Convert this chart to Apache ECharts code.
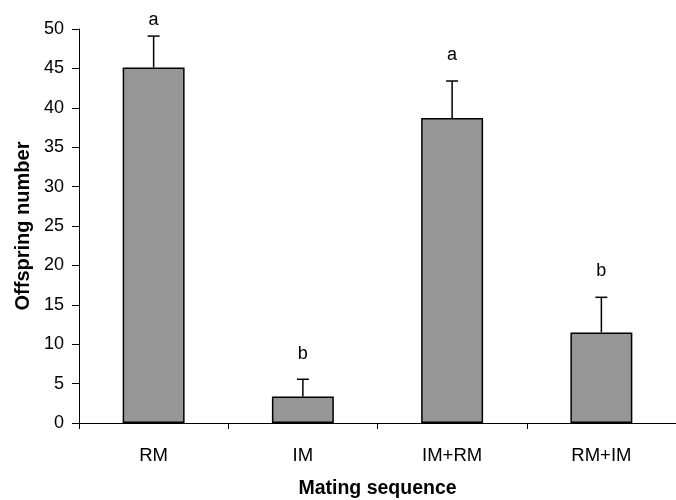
<!DOCTYPE html>
<html><head><meta charset="utf-8">
<script src="https://cdn.jsdelivr.net/npm/echarts@6/dist/echarts.min.js"></script>
<style>html,body{margin:0;padding:0;background:#fff}#c{width:676px;height:500px}</style>
</head><body><div id="c"></div>
<script>
const categories = ['RM', 'IM', 'IM+RM', 'RM+IM'];
const means = [45.1, 3.35, 38.7, 11.5];
const errorTops = [49.1, 5.55, 43.4, 15.95];
const letters = ['a', 'b', 'a', 'b'];
const letterMidY = [51.1, 8.8, 46.65, 19.25];
const yTicks = [0, 5, 10, 15, 20, 25, 30, 35, 40, 45, 50];

const font = 'Liberation Sans, Arial, sans-serif';
const chart = echarts.init(document.getElementById('c'), null, {renderer: 'canvas'});
chart.setOption({
  animation: false,
  grid: {left: 79, right: 0, top: 29, bottom: 77, containLabel: false, outerBoundsMode: 'none'},
  xAxis: {
    type: 'category', data: categories,
    name: 'Mating sequence', nameLocation: 'middle', nameGap: 56,
    nameTextStyle: {fontFamily: font, fontSize: 19.5, fontWeight: 'bold', color: '#000'},
    axisLine: {lineStyle: {color: '#000', width: 1}},
    axisTick: {show: true, length: 6, lineStyle: {color: '#000'}},
    axisLabel: {fontFamily: font, fontSize: 18.5, color: '#000', margin: 23}
  },
  yAxis: {
    type: 'value', min: yTicks[0], max: yTicks[yTicks.length - 1], interval: 5,
    name: 'Offspring number', nameLocation: 'middle', nameGap: 46, nameRotate: 90,
    nameTextStyle: {fontFamily: font, fontSize: 20, fontWeight: 'bold', color: '#000'},
    axisLine: {show: true, lineStyle: {color: '#000', width: 1}},
    axisTick: {show: true, length: 7, lineStyle: {color: '#000'}},
    axisLabel: {fontFamily: font, fontSize: 18, color: '#000', margin: 15},
    splitLine: {show: false}
  },
  series: [
    {
      type: 'bar', data: means, barWidth: '41.5%',
      itemStyle: {color: '#969696', borderColor: '#000', borderWidth: 1.5}
    },
    {
      type: 'custom', clip: false,
      data: categories.map((c, i) => [i, means[i], errorTops[i], letterMidY[i]]),
      renderItem: function (params, api) {
        const x = api.value(0);
        const p0 = api.coord([x, api.value(1)]);
        const p1 = api.coord([x, api.value(2)]);
        const pl = api.coord([x, api.value(3)]);
        const cap = 6;
        return {
          type: 'group',
          children: [
            {type: 'line', shape: {x1: p0[0], y1: p0[1], x2: p1[0], y2: p1[1]}, style: {stroke: '#000', lineWidth: 1.5}},
            {type: 'line', shape: {x1: p1[0] - cap, y1: p1[1], x2: p1[0] + cap, y2: p1[1]}, style: {stroke: '#000', lineWidth: 1.5}},
            {type: 'text', x: pl[0], y: pl[1], style: {text: letters[params.dataIndex], fontFamily: font, fontSize: 18, fill: '#000', align: 'center', verticalAlign: 'middle'}}
          ]
        };
      },
      z: 5
    }
  ]
});
</script>
</body></html>
